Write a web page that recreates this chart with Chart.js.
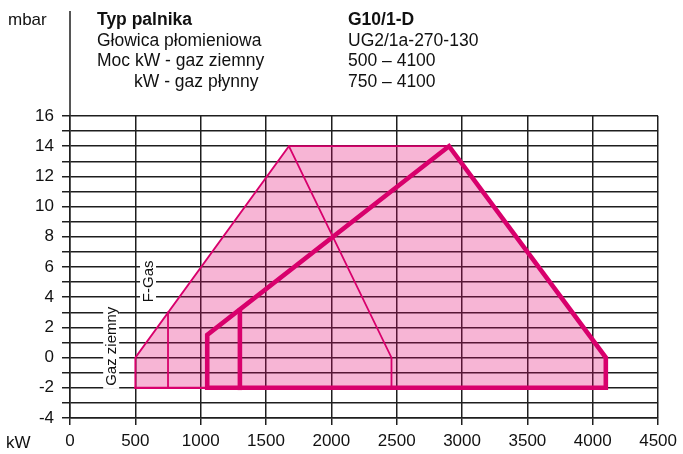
<!DOCTYPE html>
<html>
<head>
<meta charset="utf-8">
<script src="https://cdn.jsdelivr.net/npm/chart.js@4/dist/chart.umd.min.js"></script>
<style>
  html, body { margin: 0; padding: 0; background: #fff; }
</style>
</head>
<body>
<canvas id="chart" width="683" height="454"></canvas>
<script>
// DATA - x in kW, y in mbar
const xTicks = [0, 500, 1000, 1500, 2000, 2500, 3000, 3500, 4000, 4500];
const yMin = -4, yMax = 16;

// whole working field (fill)
const fieldX = [500, 500, 1675, 2900, 4100, 4100, 500];
const fieldY = [-2, 0, 14, 14, 0, -2, -2];
// thin outline of field, left part
const outlineX = [500, 500, 1675, 2900];
const outlineY = [-2, 0, 14, 14];
const bottomThinX = [500, 1050];
const bottomThinY = [-2, -2];
// F-Gas minimum (750 kW)
const fgasMinX = [750, 750];
const fgasMinY = [-2, 3];
// thin limit line
const limitX = [1675, 2460, 2460];
const limitY = [14, 0, -2];
// thick field
const thickX = [1050, 1050, 2900, 4100, 4100, 1050];
const thickY = [-2, 1.5, 14, 0, -2, -2];
const thickMinX = [1300, 1300];
const thickMinY = [-2, 3.1];

// header texts
const headLeft = ['Typ palnika', 'Głowica płomieniowa', 'Moc kW - gaz ziemny', 'kW - gaz płynny'];
const headRight = ['G10/1-D', 'UG2/1a-270-130', '500 – 4100', '750 – 4100'];

const PINK = 'rgb(216,0,108)';
const FONT = '"Liberation Sans", Arial, Helvetica, sans-serif';
const GRID = '#1e1e1e';

function pts(xs, ys){
    let out = [];
    for(let i = 0; i < xs.length; i++){
        out.push({x: xs[i], y: ys[i]});
    }
    return out;
}

function lineSet(xs, ys, width, order){
    return {
        data: pts(xs, ys),
        showLine: true,
        borderColor: PINK,
        borderWidth: width,
        borderJoinStyle: 'miter',
        borderCapStyle: 'square',
        pointRadius: 0,
        fill: false,
        tension: 0,
        order: order
    };
}

// texts, axis extension, rotated labels
const decor = {
    id: 'decor',
    afterDatasetsDraw(chart){
        const c = chart.ctx;
        const xs = chart.scales.x, ys = chart.scales.y;
        c.save();
        c.font = '15px ' + FONT;
        c.textAlign = 'center';
        c.textBaseline = 'middle';
        // rotated labels with white box
        const rot = [['Gaz ziemny', 315, 0.75], ['F-Gas', 597, 5.05]];
        for(let r of rot){
            let px = xs.getPixelForValue(r[1]);
            let py = ys.getPixelForValue(r[2]);
            let w = c.measureText(r[0]).width;
            c.save();
            c.translate(px, py);
            c.rotate(-Math.PI / 2);
            c.fillStyle = '#fff';
            c.fillRect(-w / 2 - 3, -8, w + 6, 16);
            c.fillStyle = '#111';
            c.fillText(r[0], 0, 1);
            c.restore();
        }
        c.restore();
    },
    afterDraw(chart){
        const c = chart.ctx;
        const a = chart.chartArea;
        c.save();
        // y axis line goes up to the header
        c.strokeStyle = GRID;
        c.lineWidth = 1.5;
        c.beginPath();
        c.moveTo(a.left, 11);
        c.lineTo(a.left, a.top);
        c.stroke();

        c.fillStyle = '#111';
        c.textBaseline = 'alphabetic';
        c.font = '17px ' + FONT;
        c.fillText('mbar', 8, 25);
        c.fillText('kW', 6, 448);
        for(let i = 0; i < headLeft.length; i++){
            c.font = (i == 0 ? 'bold ' : '') + '17.5px ' + FONT;
            c.fillText(headLeft[i], i == 3 ? 134 : 97, 25 + i * 20.5);
            c.fillText(headRight[i], 348, 25 + i * 20.5);
        }
        c.restore();
    }
};

const ctx = document.getElementById('chart').getContext('2d');
const chart = new Chart(ctx, {
    type: 'scatter',
    data: {
        datasets: [
            {
                data: pts(fieldX, fieldY),
                showLine: true,
                borderWidth: 0,
                borderColor: 'rgba(0,0,0,0)',
                backgroundColor: 'rgba(228,0,110,0.29)',
                pointRadius: 0,
                fill: 'shape',
                order: 10
            },
            lineSet(outlineX, outlineY, 1.8, 5),
            lineSet(bottomThinX, bottomThinY, 2.2, 5),
            lineSet(fgasMinX, fgasMinY, 1.8, 5),
            lineSet(limitX, limitY, 1.8, 5),
            lineSet(thickX, thickY, 4.6, 1),
            lineSet(thickMinX, thickMinY, 4.6, 1)
        ]
    },
    options: {
        responsive: false,
        animation: false,
        devicePixelRatio: 1,
        layout: { padding: { top: 116, right: 24, left: 0, bottom: 0 } },
        plugins: {
            legend: { display: false },
            tooltip: { enabled: false }
        },
        scales: {
            x: {
                type: 'linear',
                min: xTicks[0],
                max: xTicks[xTicks.length - 1],
                afterFit: s => { s.height = 36; },
                afterBuildTicks: s => { s.ticks = xTicks.map(v => ({value: v})); },
                ticks: {
                    color: '#111',
                    font: { family: FONT, size: 17 },
                    padding: 6,
                    maxRotation: 0,
                    autoSkip: false,
                    callback: v => String(v)
                },
                grid: { color: GRID, lineWidth: 1.5, tickLength: 7 },
                border: { color: GRID, width: 1.5 }
            },
            y: {
                min: yMin,
                max: yMax,
                afterFit: s => { s.width = 70; },
                ticks: {
                    stepSize: 1,
                    autoSkip: false,
                    color: '#111',
                    font: { family: FONT, size: 17 },
                    padding: 8,
                    callback: v => (v % 2 == 0 ? String(v) : '')
                },
                grid: { color: GRID, lineWidth: 1.5, tickLength: 8 },
                border: { color: GRID, width: 1.5 }
            }
        }
    },
    plugins: [decor]
});
</script>
</body>
</html>
